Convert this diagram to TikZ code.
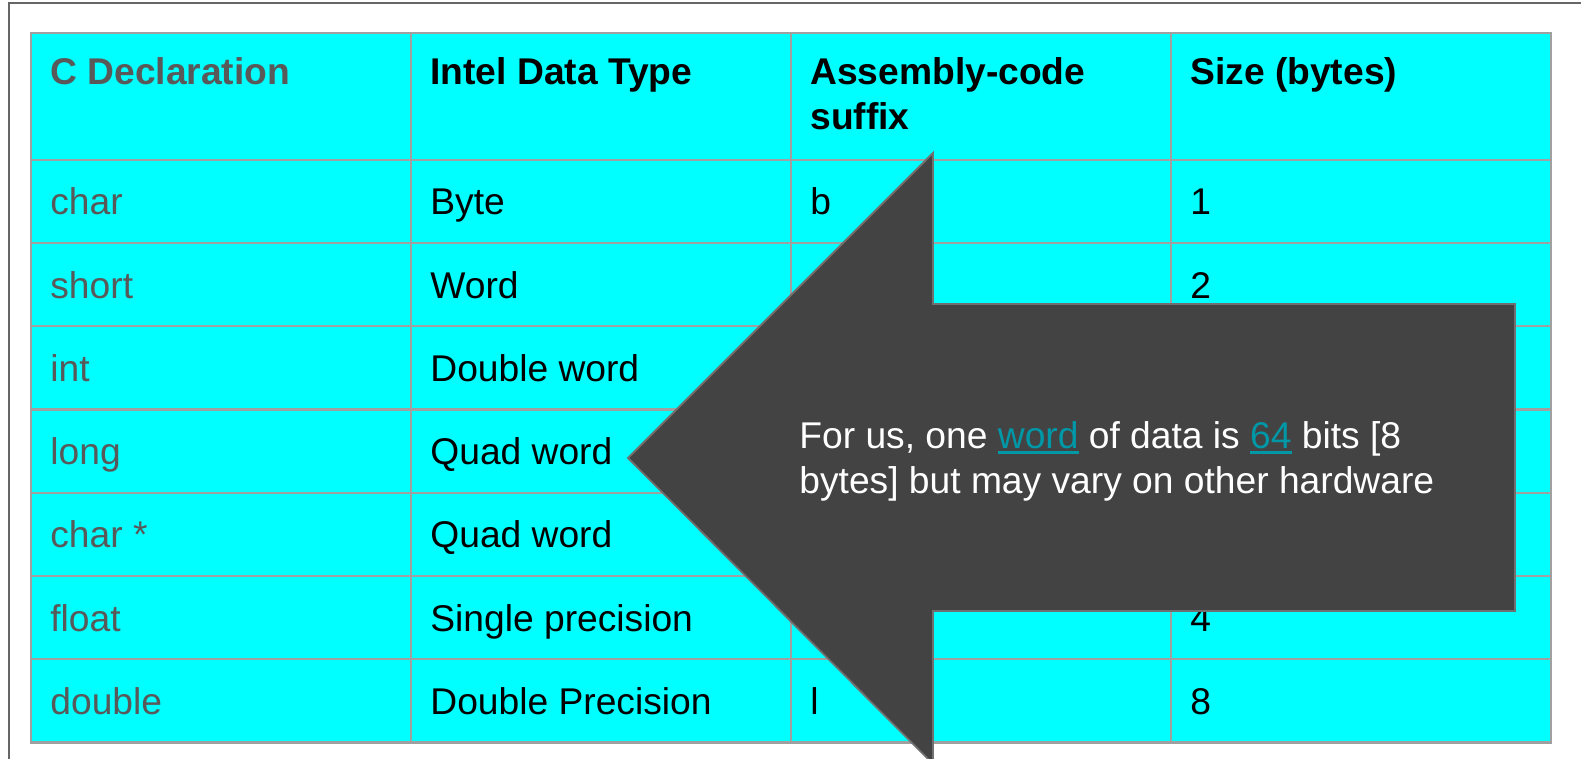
\documentclass[tikz,border=0pt]{standalone}
\usepackage{fontspec}
\setmainfont{Liberation Sans}
\definecolor{cyanbg}{HTML}{00FFFF}
\definecolor{gridc}{HTML}{A0A0A0}
\definecolor{framec}{HTML}{666666}
\definecolor{gtext}{HTML}{595959}
\definecolor{arrowc}{HTML}{434343}
\definecolor{arrowedge}{HTML}{707070}
\definecolor{linkc}{HTML}{0097A7}
\newcommand\linkword[1]{\textcolor{linkc}{\setbox0\hbox{#1}\rlap{\rule[-2.3pt]{\wd0}{1.4pt}}\box0}}
\begin{document}
\begin{tikzpicture}[x=0.5pt,y=-0.5pt,
  cell/.style={anchor=base west, inner sep=0pt, font=\fontsize{18.6}{22.3}\selectfont},
  ctype/.style={cell, text=gtext},
  head/.style={cell, font=\fontsize{18.6}{22.3}\selectfont\bfseries},
  grid/.style={draw=gridc, line width=1.1pt},
  callout/.style={fill=arrowc, draw=arrowedge, line width=0.9pt},
  note/.style={anchor=base west, inner sep=0pt, text=white, font=\fontsize{18.6}{22.3}\selectfont}]
\useasboundingbox (0,0) rectangle (1581,759);
\fill[white] (0,0) rectangle (1581,759);
% outer frame
\draw[framec, line width=1.2pt] (9,759) -- (9,3) -- (1581,3);
% table background
\fill[cyanbg] (31,33) rectangle (1551,742.4);
% grid lines
\foreach \y in {160,243.2,326.4,409.6,492.8,576,659.2}
  \draw[grid] (31,\y) -- (1551,\y);
\foreach \x in {411,791,1171}
  \draw[grid] (\x,33) -- (\x,742.4);
\draw[draw=gridc, line width=1.3pt] (31,33) rectangle (1551,742.4);
% header
\node[head, text=gtext] (h1) at (50,85) {C Declaration};
\node[head] (h2) at (430,85) {Intel Data Type};
\node[head] (h3a) at (810,85) {Assembly-code};
\node[head] (h3b) at (810,130) {suffix};
\node[head] (h4) at (1190,85) {Size (bytes)};
% column 1
\node[ctype] (c1) at (50,215) {char};
\node[ctype] (c2) at (50,298.2) {short};
\node[ctype] (c3) at (50,381.4) {int};
\node[ctype] (c4) at (50,464.6) {long};
\node[ctype] (c5) at (50,547.8) {char *};
\node[ctype] (c6) at (50,631) {float};
\node[ctype] (c7) at (50,714.2) {double};
% column 2
\node[cell] (t1) at (430,215) {Byte};
\node[cell] (t2) at (430,298.2) {Word};
\node[cell] (t3) at (430,381.4) {Double word};
\node[cell] (t4) at (430,464.6) {Quad word};
\node[cell] (t5) at (430,547.8) {Quad word};
\node[cell] (t6) at (430,631) {Single precision};
\node[cell] (t7) at (430,714.2) {Double Precision};
% column 3
\node[cell] (s1) at (810,215) {b};
\node[cell] (s7) at (810,714.2) {l};
% column 4
\node[cell] (z1) at (1190,215) {1};
\node[cell] (z2) at (1190,298.2) {2};
\node[cell] (z6) at (1190,631) {4};
\node[cell] (z7) at (1190,714.2) {8};
% callout arrow
\draw[callout] (628,458) -- (933,153) -- (933,304) -- (1515,304) -- (1515,611) -- (933,611) -- (933,764) -- cycle;
\node[note] (n1) at (799,449) {For us, one \linkword{word} of data is \linkword{64} bits [8};
\node[note] (n2) at (799,494) {bytes] but may vary on other hardware};
\end{tikzpicture}
\end{document}
